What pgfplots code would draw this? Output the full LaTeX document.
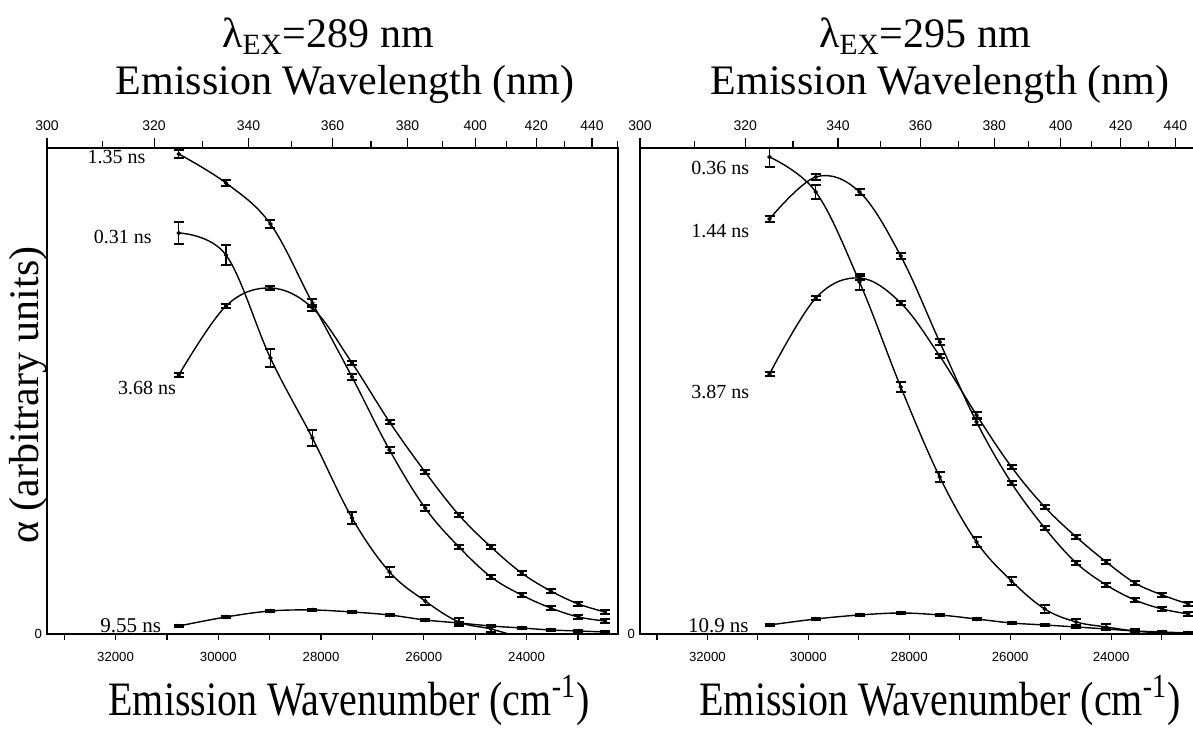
\documentclass[border=0pt]{standalone}
\usepackage{fontspec}
\setmainfont{Liberation Serif}
\setsansfont{Liberation Sans}
\usepackage{pgfplots}
\usepackage{pgfplotstable}
\pgfplotsset{compat=1.18}

% amplitudes (arbitrary units) vs emission wavenumber, 325..445 nm in 10 nm steps
\pgfplotstableread{
wn    s135 e135 s031 e031 s368 e368 s955 e955
30769 480  4    401  11   259  2    8    1
29851 451  3    379  10   328  2    17   1
28986 410  4    276  9    346  2    23   1
28169 331  4    196  8    326  3    24   1
27397 257  3    116  6    271  2    22   1
26667 184  3    62   5    212  2    19   1
25974 126  3    33   4    162  2    14   1
25316 87   2    12   4    119  2    11   1
24691 57   2    5    3    87   2    8    1
24096 39   2    -4   0    61   2    6    1
23529 26   2    nan  nan  43   2    4    1
22989 17   2    nan  nan  30   2    3    1
22472 13   2    nan  nan  22   2    2    1
}\exA

\pgfplotstableread{
wn    s036 e036 s144 e144 s387 e387 s109 e109
30769 477  10   415  3    260  2    9    1
29851 442  7    457  3    336  2    15   1
28986 352  8    442  3    356  2    19   1
28169 247  5    378  3    331  2    21   1
27397 157  5    292  3    278  2    19   1
26667 92   5    212  3    219  3    15   1
25974 53   4    151  2    167  2    11   1
25316 25   4    106  2    127  2    9    1
24691 12   3    71   2    97   2    7    1
24096 7    3    49   2    72   2    5    1
23529 3    2    34   2    51   2    3    1
22989 1    1    25   2    39   2    2    1
22472 0    1    20   2    30   2    1    1
}\exB

\pgfplotsset{
  panelbase/.style={
    scale only axis, height=243pt,
    xmin=22220, xmax=33335, x dir=reverse,
    ymin=0, ymax=486,
    axis line style={line width=0.9pt},
    tick style={black, line width=0.6pt},
    ticklabel style={font=\sffamily\fontsize{6.6}{7}\selectfont},
    clip marker paths=true,
  },
  wnaxis/.style={
    panelbase,
    xtick={24000,26000,28000,30000,32000},
    xticklabels={24000,26000,28000,30000,32000},
    minor xtick={23000,25000,27000,29000,31000,33000},
    scaled x ticks=false,
    xtick pos=lower, tick align=outside,
    major tick length=3pt, minor tick length=3pt,
    xticklabel style={yshift=-2.5pt},
    ytick={0}, yticklabels={0}, ytick pos=left,
    ytick style={draw=none},
    yticklabel style={anchor=east, xshift=4pt},
  },
  nmaxis/.style={
    panelbase,
    axis x line*=top, axis y line=none,
    xtick={22727.3,23809.5,25000,26315.8,27777.8,29411.8,31250,33333.3},
    xticklabels={440,420,400,380,360,340,320,300},
    minor xtick={22222.2,23255.8,24390.2,25641.0,27027.0,28571.4,30303.0,32258.1},
    scaled x ticks=false,
    tick align=outside,
    major tick length=5pt, minor tick length=3.5pt,
    xticklabel style={font=\sffamily\fontsize{7}{8}\selectfont},
  },
  fitline/.style={black, line width=0.7pt, smooth, tension=0.6, no markers},
  datapts/.style={black, only marks, mark=*, mark size=0.9pt,
    error bars/.cd, y dir=both, y explicit,
    error bar style={line width=0.6pt},
    error mark options={rotate=90, mark size=2.5pt, line width=0.6pt}},
}
\tikzset{lab/.style={font=\fontsize{10}{12}\selectfont}}

\begin{document}
\begin{tikzpicture}
\path[use as bounding box] (0,0) rectangle (596.5pt,365.5pt);

% ---------------- left panel: excitation 289 nm ----------------
\begin{axis}[nmaxis, at={(23.5pt,48.5pt)}, width=285.5pt]
\end{axis}
\begin{axis}[wnaxis, at={(23.5pt,48.5pt)}, width=285.5pt]
  \addplot[fitline] table[x=wn,y=s135]{\exA};
  \addplot[datapts] table[x=wn,y=s135,y error=e135]{\exA};
  \addplot[fitline] table[x=wn,y=s031]{\exA};
  \addplot[datapts] table[x=wn,y=s031,y error=e031]{\exA};
  \addplot[fitline] table[x=wn,y=s368]{\exA};
  \addplot[datapts] table[x=wn,y=s368,y error=e368]{\exA};
  \addplot[fitline] table[x=wn,y=s955]{\exA};
  \addplot[datapts] table[x=wn,y=s955,y error=e955]{\exA};
  \node[lab] at (axis cs:31980,477) {1.35 ns};
  \node[lab] at (axis cs:31861,397) {0.31 ns};
  \node[lab] at (axis cs:31386,246) {3.68 ns};
  \node[font=\fontsize{10.5}{12}\selectfont] at (axis cs:31703,8) {9.55 ns};
\end{axis}

% ---------------- right panel: excitation 295 nm ----------------
\begin{axis}[nmaxis, at={(320pt,48.5pt)}, width=280.5pt]
\end{axis}
\begin{axis}[wnaxis, at={(320pt,48.5pt)}, width=280.5pt]
  \addplot[fitline] table[x=wn,y=s036]{\exB};
  \addplot[datapts] table[x=wn,y=s036,y error=e036]{\exB};
  \addplot[fitline] table[x=wn,y=s144]{\exB};
  \addplot[datapts] table[x=wn,y=s144,y error=e144]{\exB};
  \addplot[fitline] table[x=wn,y=s387]{\exB};
  \addplot[datapts] table[x=wn,y=s387,y error=e387]{\exB};
  \addplot[fitline] table[x=wn,y=s109]{\exB};
  \addplot[datapts] table[x=wn,y=s109,y error=e109]{\exB};
  \node[lab] at (axis cs:31744,466) {0.36 ns};
  \node[lab] at (axis cs:31744,403) {1.44 ns};
  \node[lab] at (axis cs:31744,242) {3.87 ns};
  \node[font=\fontsize{10.5}{12}\selectfont] at (axis cs:31783,8) {10.9 ns};
\end{axis}

% titles and axis names
\node[anchor=base, font=\fontsize{21}{24}\selectfont] at (164pt,341.5pt) {λ\textsubscript{EX}=289 nm};
\node[anchor=base, font=\fontsize{21}{24}\selectfont] at (172.5pt,318pt) {Emission Wavelength (nm)};
\node[anchor=base, font=\fontsize{21}{24}\selectfont] at (462.5pt,341.5pt) {λ\textsubscript{EX}=295 nm};
\node[anchor=base, font=\fontsize{21}{24}\selectfont] at (470pt,318pt) {Emission Wavelength (nm)};
\node[anchor=base, font=\fontsize{20}{24}\selectfont] at (174.5pt,7.5pt) {\scalebox{1}[1.2]{Emission Wavenumber (cm\textsuperscript{-1})}};
\node[anchor=base, font=\fontsize{20}{24}\selectfont] at (470pt,7.5pt) {\scalebox{1}[1.2]{Emission Wavenumber (cm\textsuperscript{-1})}};
\node[rotate=90, font=\fontsize{21}{24}\selectfont] at (14pt,168pt) {α (arbitrary units)};
\end{tikzpicture}
\end{document}
